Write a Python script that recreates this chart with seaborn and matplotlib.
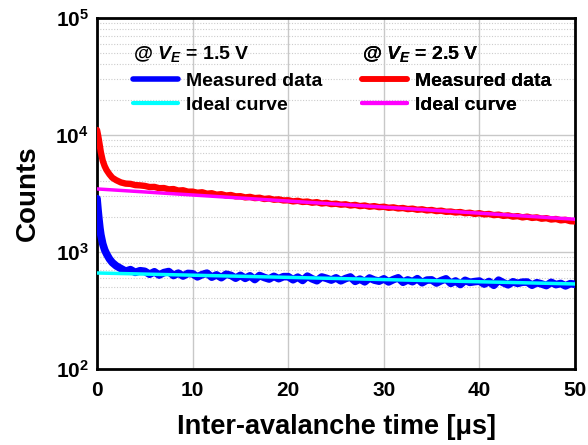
import matplotlib
matplotlib.use("Agg")
import matplotlib.pyplot as plt
from matplotlib.lines import Line2D
from matplotlib.ticker import FixedLocator, FixedFormatter, LogLocator, NullFormatter
import seaborn as sns
import numpy as np
import pandas as pd

# time axis: dense early samples, then every 0.5 us
t_early = [0, 0.1, 0.2, 0.3, 0.4, 0.6, 0.8, 1.0, 1.3, 1.6, 2.0]
t_tail = list(np.arange(2.5, 50.01, 0.5))
time_us = t_early + t_tail

# V_E = 2.5 V measured counts
red_early = [11000, 10000, 9000, 8000, 7100, 6000, 5400, 5000, 4600, 4300, 4100]
red_tail = [3920, 3830, 3810, 3720, 3700,
            3660, 3580, 3590, 3500, 3510, 3420, 3440, 3340, 3360, 3270,
            3270, 3200, 3230, 3140, 3170, 3080, 3110, 3030, 3060, 2980,
            2990, 2920, 2950, 2880, 2900, 2830, 2860, 2790, 2810, 2750,
            2760, 2700, 2730, 2670, 2690, 2630, 2660, 2590, 2620, 2560,
            2580, 2530, 2550, 2490, 2520, 2460, 2490, 2430, 2460, 2410,
            2430, 2380, 2400, 2350, 2370, 2320, 2340, 2290, 2310, 2260,
            2280, 2230, 2250, 2200, 2210, 2170, 2190, 2140, 2160, 2110,
            2140, 2090, 2110, 2060, 2080, 2030, 2050, 2000, 2020, 1970,
            2000, 1950, 1970, 1920, 1940, 1890, 1910, 1860, 1880, 1830, 1820]
red_counts = red_early + red_tail

# V_E = 1.5 V measured counts
blue_early = [2850, 2300, 1900, 1600, 1400, 1170, 1040, 960, 870, 810, 760]
blue_tail = [720, 684, 705, 668, 690,
             682, 644, 676, 634, 665, 679, 628, 658, 622, 654,
             650, 612, 640, 658, 608, 636, 602, 644, 630, 596,
             630, 594, 624, 580, 628, 604, 586, 618, 590, 614,
             614, 578, 608, 570, 620, 588, 567, 610, 594, 574,
             600, 566, 592, 610, 560, 585, 555, 598, 574, 562,
             588, 554, 580, 600, 550, 576, 556, 590, 545, 574,
             576, 542, 568, 588, 538, 564, 526, 571, 549, 557,
             563, 531, 558, 518, 573, 545, 523, 555, 538, 551,
             552, 519, 545, 532, 515, 549, 525, 537, 512, 535, 528]
blue_counts = blue_early + blue_tail

# ideal curves (end points, straight on log axis)
ideal_t = [0, 50]
ideal_red = [3450, 1900]
ideal_blue = [660, 532]

ytick_vals = [1e2, 1e3, 1e4, 1e5]
ytick_labels = [r"$\mathbf{10^{2}}$", r"$\mathbf{10^{3}}$", r"$\mathbf{10^{4}}$", r"$\mathbf{10^{5}}$"]
xtick_vals = [0, 10, 20, 30, 40, 50]

sns.set_style("white")
plt.rcParams["font.family"] = ["Liberation Sans", "DejaVu Sans"]
plt.rcParams["font.weight"] = "bold"
plt.rcParams["text.color"] = "black"
plt.rcParams["axes.labelcolor"] = "black"
plt.rcParams["xtick.color"] = "black"
plt.rcParams["ytick.color"] = "black"
plt.rcParams["mathtext.fontset"] = "custom"
plt.rcParams["mathtext.rm"] = "Liberation Sans:bold"
plt.rcParams["mathtext.bf"] = "Liberation Sans:bold"
plt.rcParams["mathtext.it"] = "Liberation Sans:bold:italic"

fig = plt.figure(figsize=(5.88, 4.45), dpi=100)
ax = fig.add_axes([0.165, 0.171, 0.813, 0.789])

c_blue, c_cyan, c_red, c_mag = "#0000ff", "#00ffff", "#ff0000", "#ff00ff"

sns.lineplot(x=time_us, y=blue_counts, ax=ax, color=c_blue, lw=5.5, zorder=3)
sns.lineplot(x=time_us, y=red_counts, ax=ax, color=c_red, lw=4.6, zorder=3)
sns.lineplot(x=ideal_t, y=ideal_blue, ax=ax, color=c_cyan, lw=2.5, zorder=4)
sns.lineplot(x=ideal_t, y=ideal_red, ax=ax, color=c_mag, lw=2.5, zorder=4)

ax.set_yscale("log")
ax.set_xlim(0, 50)
ax.set_ylim(1e2, 1e5)
ax.yaxis.set_major_locator(FixedLocator(ytick_vals))
ax.yaxis.set_major_formatter(FixedFormatter(ytick_labels))
ax.yaxis.set_minor_locator(LogLocator(base=10, subs=np.arange(2, 10)))
ax.yaxis.set_minor_formatter(NullFormatter())
ax.set_xticks(xtick_vals)
ax.tick_params(axis="y", which="both", length=0, labelsize=15, pad=6)
ax.tick_params(axis="x", which="both", length=0, labelsize=15, pad=9)
for lab in ax.get_xticklabels():
    lab.set_fontweight("bold")

ax.grid(True, which="major", axis="both", color="#c8c8c8", lw=1.0, ls="-")
ax.grid(True, which="minor", axis="y", color="#cccccc", lw=0.8, ls=(0, (1, 1.5)))
ax.set_axisbelow(True)
for sp in ax.spines.values():
    sp.set_visible(True)
    sp.set_color("black")
    sp.set_linewidth(2)

ax.set_xlabel("Inter-avalanche time [μs]", fontsize=19.5, fontweight="bold", labelpad=10)
ax.set_ylabel("Counts", fontsize=20, fontweight="bold", labelpad=10)

def add_legend(x, title, c_meas, c_ideal):
    handles = [Line2D([], [], color=c_meas, lw=4), Line2D([], [], color=c_ideal, lw=3)]
    leg = ax.legend(handles, ["Measured data", "Ideal curve"], loc="upper left",
                    bbox_to_anchor=(x, 0.925), frameon=False, borderpad=0,
                    borderaxespad=0, handlelength=2.3, handletextpad=0.45,
                    labelspacing=0.3, title=title,
                    prop={"size": 14, "weight": "bold"},
                    title_fontproperties={"size": 14, "weight": "bold"})
    leg._legend_box.align = "left"
    leg._legend_box.sep = 6
    ax.add_artist(leg)
    return leg

add_legend(0.075, r"@ $V_E$ = 1.5 V", c_blue, c_cyan)
add_legend(0.554, r"@ $V_E$ = 2.5 V", c_red, c_mag)

fig.savefig("out.png", dpi=100)
